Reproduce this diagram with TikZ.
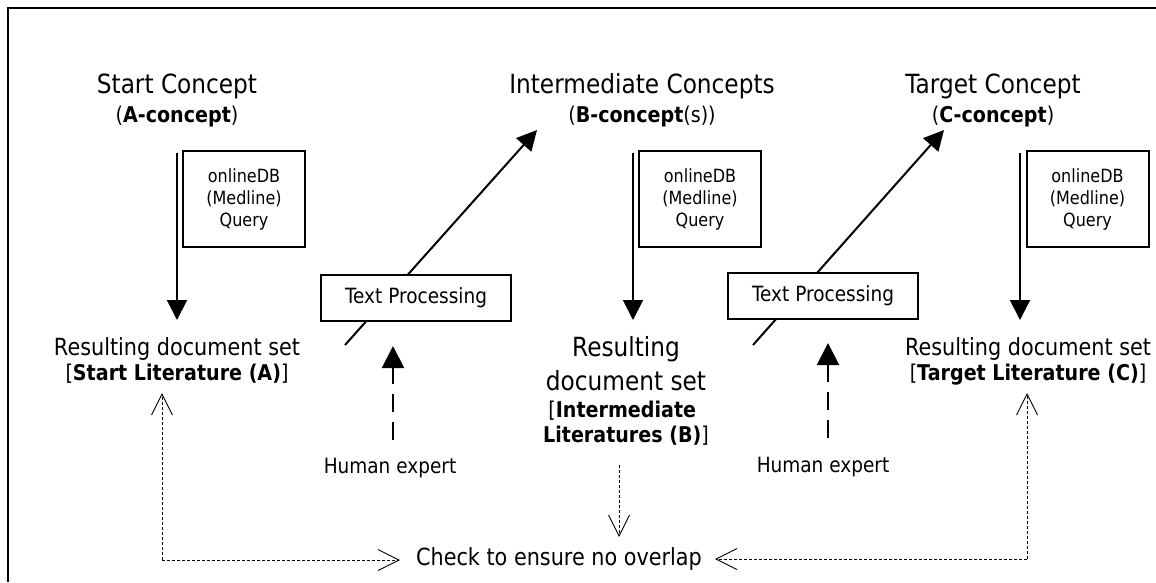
\documentclass[tikz,border=0pt]{standalone}
\usepackage{fontspec}
\setmainfont[FakeStretch=0.88]{DejaVu Sans}
\usetikzlibrary{arrows.meta}

\begin{document}
\begin{tikzpicture}[x=1pt,y=-1pt,
  txt/.style={anchor=base,inner sep=0pt},
  big/.style={txt,font=\fontsize{26.4}{30}\selectfont},
  sub/.style={txt,font=\fontsize{21.7}{25}\selectfont},
  res/.style={txt,font=\fontsize{23.6}{27}\selectfont},
  lbl/.style={txt,font=\fontsize{21}{24}\selectfont},
  qbox/.style={draw,line width=2pt,fill=white,minimum width=122pt,minimum height=96pt,
    inner sep=0pt,align=center,font=\fontsize{18.2}{22}\selectfont},
  tpbox/.style={draw,line width=2pt,fill=white,minimum width=190pt,minimum height=46pt,
    inner sep=0pt,font=\fontsize{21}{24}\selectfont},
  flow/.style={line width=2pt,-{Triangle[length=20pt,width=20pt]}},
  expert/.style={line width=2pt,dash pattern=on 18pt off 10pt,-{Triangle[length=22pt,width=22pt]}},
  check/.style={line width=0.9pt,dash pattern=on 3pt off 2pt,-{Straight Barb[length=21pt,width=21pt]}},
  checkline/.style={line width=0.9pt,dash pattern=on 3pt off 2pt},
]
\useasboundingbox (0,0) rectangle (1156,582);

% frame
\draw[line width=2pt] (8,582) -- (8,8) -- (1156,8);

% concepts
\node[big] (sA) at (177,93) {Start Concept};
\node[sub] (sA2) at (177,122) {(\textbf{A-concept})};
\node[big] (sB) at (642,93) {Intermediate Concepts};
\node[sub] (sB2) at (642,122) {(\textbf{B-concept}(s))};
\node[big] (sC) at (993,93) {Target Concept};
\node[sub] (sC2) at (993,122) {(\textbf{C-concept})};

% queries
\node[qbox] (qA) at (244,199) {onlineDB\\(Medline)\\Query};
\node[qbox] (qB) at (700,199) {onlineDB\\(Medline)\\Query};
\node[qbox] (qC) at (1087.5,199) {onlineDB\\(Medline)\\Query};

\coordinate (qAtop) at (177,153);
\coordinate (qAend) at (177,320);
\coordinate (qBtop) at (633,153);
\coordinate (qBend) at (633,320);
\coordinate (qCtop) at (1020,153);
\coordinate (qCend) at (1020,320);
\draw[flow] (qAtop) -- (qAend);
\draw[flow] (qBtop) -- (qBend);
\draw[flow] (qCtop) -- (qCend);

% resulting document sets
\node[res] (rA1) at (177,355) {Resulting document set};
\node[sub] (rA2) at (177,380) {[\textbf{Start Literature (A)}]};
\node[big] (rB1) at (626,356) {Resulting};
\node[big] (rB2) at (626,390) {document set};
\node[sub] (rB3) at (626,417) {[\textbf{Intermediate}\phantom{]}};
\node[sub] (rB4) at (626,442) {\textbf{Literatures (B)}]};
\node[res] (rC1) at (1028,355) {Resulting document set};
\node[sub] (rC2) at (1028,380) {[\textbf{Target Literature (C)}]};

% text processing steps
\coordinate (tA0) at (345,345);
\coordinate (tA1) at (537,130);
\coordinate (tB0) at (753,345);
\coordinate (tB1) at (944,130);
\draw[flow] (tA0) -- (tA1);
\draw[flow] (tB0) -- (tB1);
\node[tpbox] (tpA) at (416,298) {Text Processing};
\node[tpbox] (tpB) at (823,296) {Text Processing};

% human expert
\node[lbl] (hA) at (390,473) {Human expert};
\node[lbl] (hB) at (823,472) {Human expert};
\coordinate (hAs) at (393,440);
\coordinate (hAe) at (393,346);
\coordinate (hBs) at (828,438);
\coordinate (hBe) at (828,343);
\draw[expert] (hAs) -- (hAe);
\draw[expert] (hBs) -- (hBe);

% overlap check
\node[res,anchor=center] (chk) at (559,559) {Check to ensure no overlap};
\coordinate (cL) at (162,560);
\coordinate (cLup) at (162,393);
\coordinate (cLin) at (400,560);
\coordinate (cR) at (1027,559);
\coordinate (cRup) at (1027,393);
\coordinate (cRin) at (715,559);
\coordinate (cMs) at (619,465);
\coordinate (cMe) at (619,537);
\draw[check] (cL) -- (cLup);
\draw[check] (cL) -- (cLin);
\draw[check] (cR) -- (cRup);
\draw[check] (cR) -- (cRin);
\draw[check] (cMs) -- (cMe);
\end{tikzpicture}
\end{document}
